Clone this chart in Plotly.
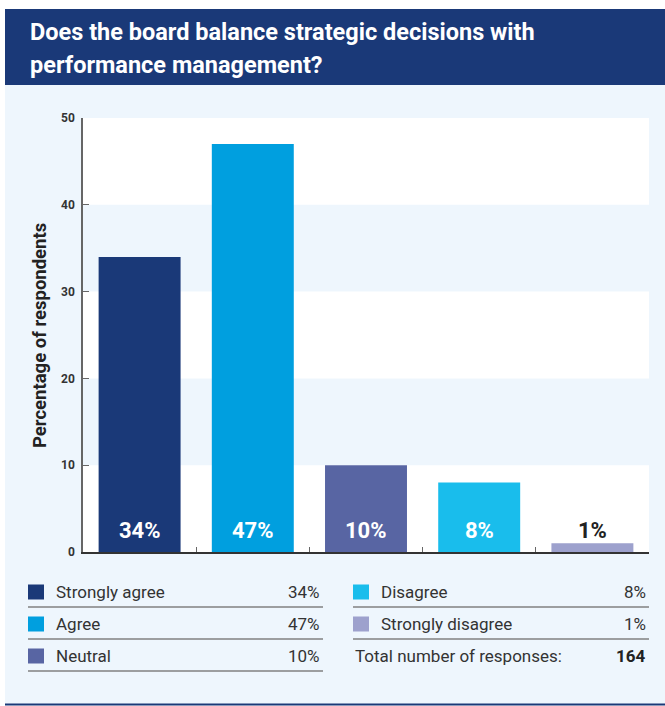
import plotly.graph_objects as go

# ---- data ----
categories = ["Strongly agree", "Agree", "Neutral", "Disagree", "Strongly disagree"]
values = [34, 47, 10, 8, 1]
bar_colors = ["#1a3978", "#009fdf", "#5865a3", "#19bdec", "#9da1cd"]
label_colors = ["white", "white", "white", "white", "#222222"]
y_ticks = [0, 10, 20, 30, 40, 50]
total_responses = 164
title_lines = ["Does the board balance strategic decisions with", "performance management?"]
y_title = "Percentage of respondents"

W, H = 665, 706
NAVY = "#1a3978"
LIGHT = "#eef6fd"
FONT = "Roboto, 'Open Sans', sans-serif"


def px(x):
    return x / W


def py(y):
    return 1 - y / H


fig = go.Figure()
fig.add_trace(go.Bar(
    x=categories, y=values,
    marker=dict(color=bar_colors, line=dict(width=0)),
    hoverinfo="x+y",
))

shapes = []
annotations = []

# outer light panel and header
shapes.append(dict(type="rect", xref="paper", yref="paper", x0=px(5), x1=px(665), y0=py(705), y1=py(85),
                   fillcolor=LIGHT, line=dict(width=0), layer="below"))
shapes.append(dict(type="rect", xref="paper", yref="paper", x0=px(5), x1=px(665), y0=py(85), y1=py(9),
                   fillcolor=NAVY, line=dict(width=0), layer="below"))
shapes.append(dict(type="line", xref="paper", yref="paper", x0=px(5), x1=px(665), y0=py(704.5), y1=py(704.5),
                   line=dict(color=NAVY, width=2)))

# white bands in plot area
for lo in [0, 20, 40]:
    shapes.append(dict(type="rect", xref="x domain", yref="y", x0=0, x1=1, y0=lo, y1=lo + 10,
                       fillcolor="white", line=dict(width=0), layer="below"))

# title
for i, line in enumerate(title_lines):
    annotations.append(dict(xref="paper", yref="paper", x=px(28), y=py(32 + 33 * i), xanchor="left",
                            yanchor="middle", showarrow=False, text=line,
                            font=dict(family=FONT, size=23.5, color="white", weight="bold")))

# y axis title
annotations.append(dict(xref="paper", yref="paper", x=px(40), y=py(336), textangle=-90,
                        showarrow=False, text=y_title, xanchor="center", yanchor="middle",
                        font=dict(family=FONT, size=18.5, color="#222222", weight="bold")))

# bar value labels
for c, v, lc in zip(categories, values, label_colors):
    annotations.append(dict(x=c, y=0, xref="x", yref="y", yshift=22, yanchor="middle", showarrow=False,
                            text=f"{v}%", font=dict(family=FONT, size=22, color=lc, weight="bold")))

# legend table
rows_y = [592, 624, 656]
line_y = [607, 639, 671]
cols = [(28, 323), (353, 649)]
entries = list(zip(categories, values, bar_colors))
slots = [(0, 0), (0, 1), (0, 2), (1, 0), (1, 1)]
for (name, v, col), (ci, ri) in zip(entries, slots):
    x0, x1 = cols[ci]
    yc = rows_y[ri]
    shapes.append(dict(type="rect", xref="paper", yref="paper", x0=px(x0), x1=px(x0 + 16),
                       y0=py(yc + 7.5), y1=py(yc - 7.5), fillcolor=col, line=dict(width=0)))
    annotations.append(dict(xref="paper", yref="paper", x=px(x0 + 26), y=py(yc), xanchor="left",
                            yanchor="middle", showarrow=False, text=name,
                            font=dict(family=FONT, size=17, color="#333333")))
    annotations.append(dict(xref="paper", yref="paper", x=px(x1 - 1), y=py(yc), xanchor="right",
                            yanchor="middle", showarrow=False, text=f"{v}%",
                            font=dict(family=FONT, size=17, color="#333333")))
    shapes.append(dict(type="line", xref="paper", yref="paper", x0=px(x0), x1=px(x1),
                       y0=py(line_y[ri]), y1=py(line_y[ri]), line=dict(color="#808080", width=1.5)))

# total row
annotations.append(dict(xref="paper", yref="paper", x=px(353), y=py(rows_y[2]), xanchor="left",
                        yanchor="middle", showarrow=False, text="Total number of responses:",
                        font=dict(family=FONT, size=17, color="#333333")))
annotations.append(dict(xref="paper", yref="paper", x=px(648), y=py(rows_y[2]), xanchor="right",
                        yanchor="middle", showarrow=False, text=str(total_responses),
                        font=dict(family=FONT, size=17, color="#222222", weight="bold")))

fig.update_layout(
    width=W, height=H,
    margin=dict(l=0, r=0, t=0, b=0, pad=0, autoexpand=False),
    paper_bgcolor="white",
    plot_bgcolor=LIGHT,
    showlegend=False,
    bargap=0.276,
    shapes=shapes,
    annotations=annotations,
    xaxis=dict(domain=[px(83), px(649)], showticklabels=False, tickson="boundaries", ticks="inside",
               ticklen=5, tickcolor="#666666", showline=True, linecolor="#333333", linewidth=1.5,
               showgrid=False, zeroline=False, automargin=False),
    yaxis=dict(domain=[py(552), py(118)], range=[0, 50], tickvals=y_ticks, ticks="inside", ticklen=6,
               tickcolor="#666666", showline=True, linecolor="#666666", linewidth=1.5, showgrid=False,
               zeroline=False, ticklabelstandoff=4, automargin=False,
               tickfont=dict(family=FONT, size=12, color="#333333", weight="bold")),
)

fig.write_html("out.html", config={"displayModeBar": False},
               post_script="document.body.style.margin='0';document.body.style.overflow='hidden';")
